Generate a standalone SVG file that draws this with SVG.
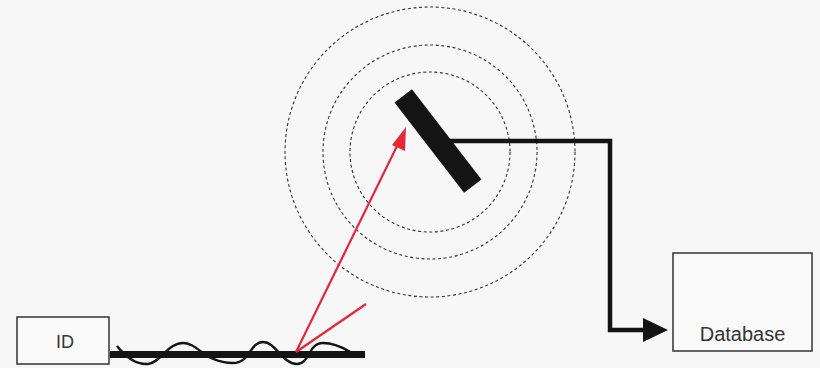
<svg xmlns="http://www.w3.org/2000/svg" width="820" height="368" viewBox="0 0 820 368">
<defs>
<style>
.box{fill:#fafafa;stroke:#333;stroke-width:1.5}
.lbl{font-family:"Liberation Sans",Arial,sans-serif;fill:#333;text-anchor:middle}
.ring{fill:none;stroke:#333;stroke-width:1.1;stroke-dasharray:3 2.6}
.red{stroke:#e2283c;stroke-width:2.2;fill:none}
.blk{stroke:#141414;fill:none}
</style>
<marker id="redHead" viewBox="0 0 10 10" refX="9" refY="5" markerWidth="10" markerHeight="7" markerUnits="userSpaceOnUse" orient="auto" >
<path d="M0,0 L10,5 L0,10 z" fill="#e2283c"/>
</marker>
</defs>
<rect width="820" height="368" fill="#f7f7f7"/>
<g id="field">
<circle class="ring" cx="430" cy="152" r="145"/>
<circle class="ring" cx="430" cy="152" r="107"/>
<circle class="ring" cx="430" cy="152" r="80"/>
</g>
<g id="reader">
<rect x="381" y="130" width="114" height="22" fill="#141414" transform="rotate(52.4 438 141)"/>
</g>
<g id="id-node">
<rect class="box" x="17" y="317" width="92" height="47"/>
<text class="lbl" x="65" y="348" font-size="18">ID</text>
</g>
<g id="tag-wire">
<line class="blk" x1="110" y1="354.5" x2="365" y2="354.5" stroke-width="7"/>
<path class="blk" stroke-width="2.4" d="M117,346 C125,356 135,365 148,364 C160,363 168,343 183,343 C198,343 205,363 233,363 C250,363 250,342 263,342 C276,342 282,364 297,364 C310,364 308,343 323,343 C336,343 345,349 350,352"/>
</g>
<g id="database">
<rect class="box" x="673" y="253" width="139" height="98"/>
<text class="lbl" x="742.5" y="341" font-size="20">Database</text>
</g>
<g id="connectors">
<polyline class="blk" stroke-width="4.5" points="450,141 610,141 610,330 645,330"/>
<path d="M643,318 L668,330 L643,342 z" fill="#141414"/>
<line class="red" x1="296" y1="352" x2="399" y2="142"/>
<path d="M406,127 L405,151 L392,145 z" fill="#e2283c"/>
<line class="red" x1="296" y1="352" x2="366" y2="304"/>
</g>
</svg>
